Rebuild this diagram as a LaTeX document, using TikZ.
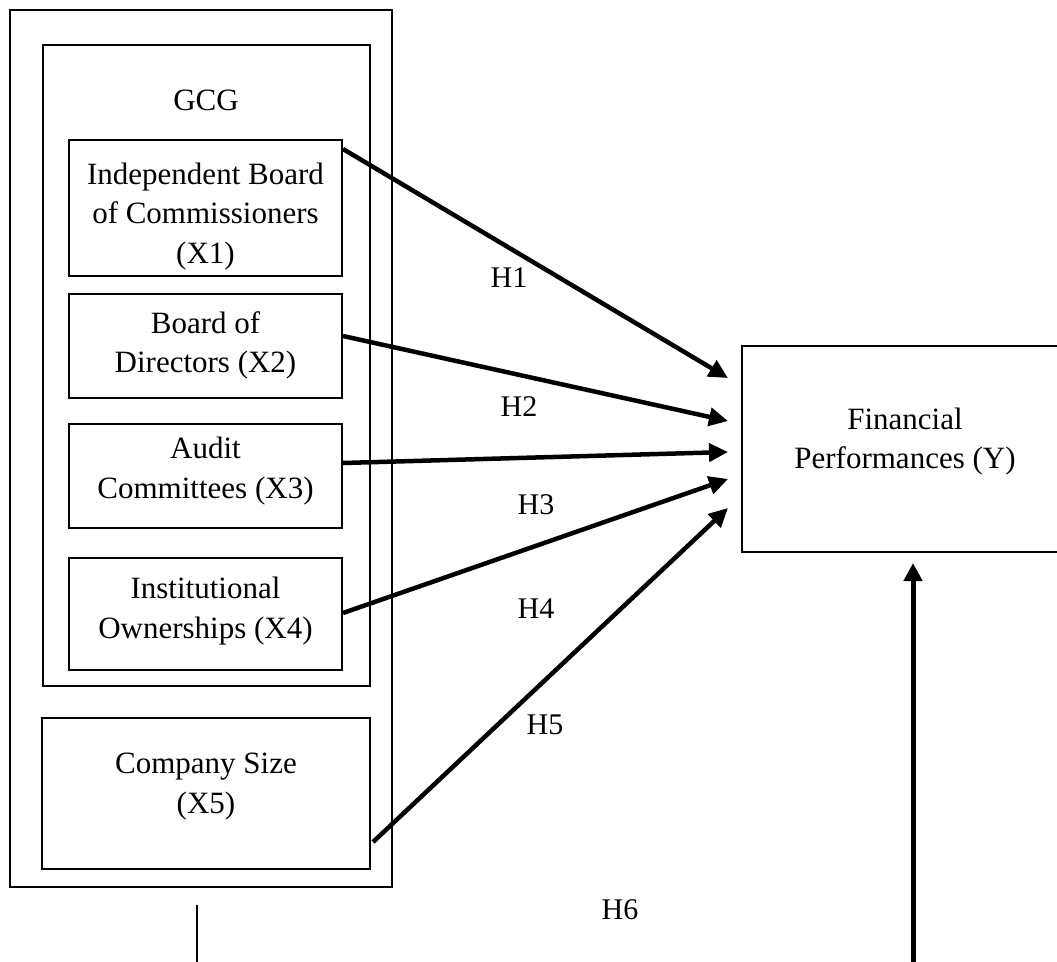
\documentclass[tikz,border=0pt]{standalone}
\usepackage{fontspec}
\setmainfont{Liberation Serif}
\usetikzlibrary{arrows.meta}
\begin{document}
\begin{tikzpicture}[x=1pt,y=-1pt,
  box/.style={draw=black, line width=2pt, rectangle, inner sep=0pt},
  txt/.style={align=center, inner sep=0pt, font=\fontsize{31}{39.5}\selectfont},
  hlab/.style={inner sep=0pt, font=\fontsize{30}{36}\selectfont},
  arr/.style={line width=4.5pt, -{Triangle[length=19pt,width=18pt]}},
  varr/.style={line width=5pt, -{Triangle[length=18pt,width=18pt]}},
  thin/.style={line width=2pt}]
\fill[white] (0,0) rectangle (1057,961);
\useasboundingbox (0,0) rectangle (1057,961);
% boxes
\node[box, minimum width=382pt, minimum height=877pt] (outer) at (201,448.5) {};
\node[box, minimum width=327pt, minimum height=641pt] (gcg) at (206.5,365.5) {};
\node[txt] (gcgt) at (206,100) {GCG};
\node[box, minimum width=273pt, minimum height=136pt] (x1) at (205.5,208) {};
\node[txt] (x1t) at (205.5,216.5) {Independent Board\\of Commissioners\\(X1)};
\node[box, minimum width=273pt, minimum height=104pt] (x2) at (205.5,346) {};
\node[txt] (x2t) at (205.5,345.5) {Board of\\Directors (X2)};
\node[box, minimum width=273pt, minimum height=104pt] (x3) at (205.5,476) {};
\node[txt] (x3t) at (205.5,471) {Audit\\Committees (X3)};
\node[box, minimum width=273pt, minimum height=112pt] (x4) at (205.5,614) {};
\node[txt] (x4t) at (205.5,611) {Institutional\\Ownerships (X4)};
\node[box, minimum width=328pt, minimum height=151pt] (x5) at (206,793.5) {};
\node[txt] (x5t) at (206,786.5) {Company Size\\(X5)};
\node[box, minimum width=326pt, minimum height=206pt] (y) at (905,449) {};
\node[txt] (yt) at (905,441.5) {Financial\\Performances (Y)};
% arrows
\draw[arr] ([yshift=-10pt]x1.north east) -- ([xshift=-13pt,yshift=71pt]y.west);
\draw[arr] ([yshift=10pt]x2.east) -- ([xshift=-13pt,yshift=28pt]y.west);
\draw[arr] ([yshift=13pt]x3.east) -- ([xshift=-13pt,yshift=-3pt]y.west);
\draw[arr] ([yshift=1pt]x4.east) -- ([xshift=-13pt,yshift=-30pt]y.west);
\draw[arr] ([xshift=2pt,yshift=-48.5pt]x5.east) -- ([xshift=-13pt,yshift=-59pt]y.west);
% H6 lines
\coordinate (v0) at (913,975);
\draw[varr] (v0) -- ([xshift=8pt,yshift=-10pt]y.south);
\coordinate (t0) at (197,975);
\draw[thin] ([xshift=-4pt,yshift=-17pt]outer.south) -- (t0);
% labels
\node[hlab] (h1) at (509,278) {H1};
\node[hlab] (h2) at (519,407) {H2};
\node[hlab] (h3) at (536,505) {H3};
\node[hlab] (h4) at (536,609) {H4};
\node[hlab] (h5) at (545,725) {H5};
\node[hlab] (h6) at (620,910) {H6};
\end{tikzpicture}
\end{document}
